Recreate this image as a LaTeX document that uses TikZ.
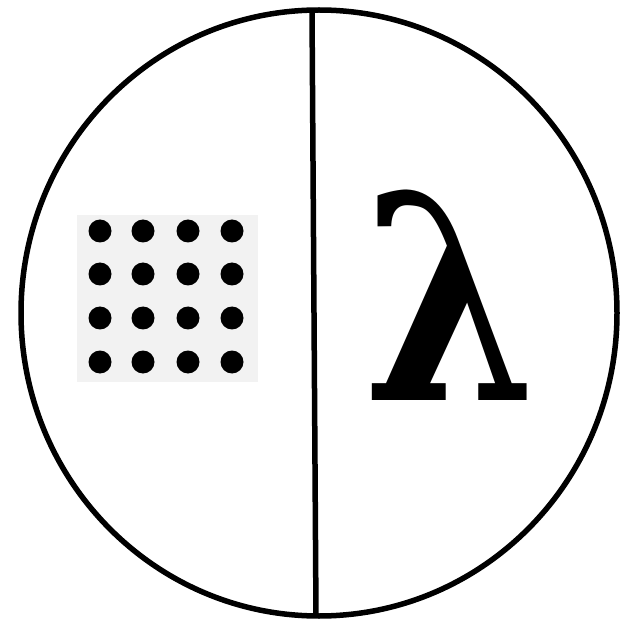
\documentclass[tikz,border=0pt]{standalone}
\usepackage{fontspec}
\usetikzlibrary{shapes.geometric}
\newfontfamily\lamfont{DejaVu Serif}
\begin{document}
\begin{tikzpicture}[x=1pt,y=1pt,
  outline/.style={line width=5.5pt,draw=black},
  dot/.style={circle,fill=black,minimum size=23pt,inner sep=0pt}]
\useasboundingbox (0,0) rectangle (635,625);
\node[outline,ellipse,minimum width=596pt,minimum height=606pt,inner sep=0pt,draw] (circ) at (319,312) {};
\coordinate (top) at (312,615);
\coordinate (bot) at (316,9);
\draw[line width=5.5pt] (top) -- (bot);
\node[fill=gray!10,minimum width=181pt,minimum height=167pt,inner sep=0pt] (sq) at (167.5,326.5) {};
\foreach \i/\x in {1/100,2/143,3/188,4/232}{
  \foreach \j/\y in {1/231,2/274,3/318,4/362}{
    \node[dot] (d\i\j) at (\x,625-\y) {};
  }
}
\node[anchor=base,inner sep=0pt,xscale=0.87,font=\lamfont\bfseries\fontsize{285}{285}\selectfont] (lam) at (450,225) {λ};
\end{tikzpicture}
\end{document}
